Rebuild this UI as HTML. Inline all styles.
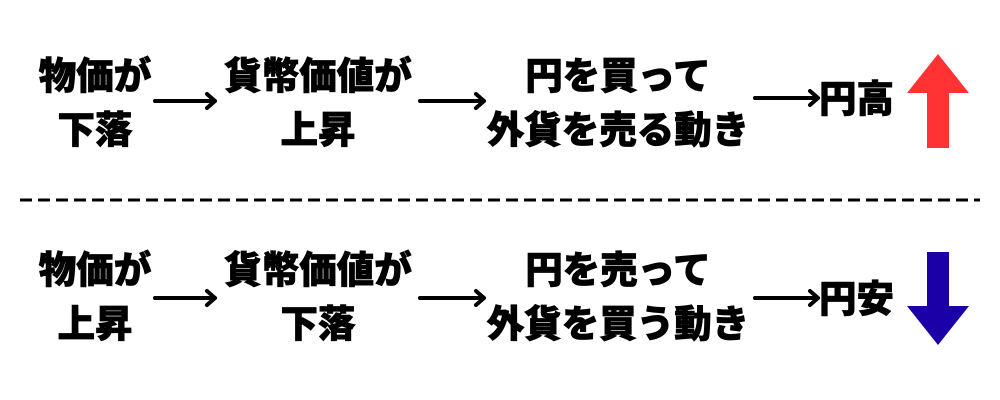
<!DOCTYPE html>
<html><head><meta charset="utf-8"><style>
body{margin:0;width:1000px;height:400px;background:#fff;position:relative;overflow:hidden;font-family:"Liberation Sans","Noto Sans CJK JP",sans-serif;font-weight:900;}
.t{position:absolute;font-size:37.5px;line-height:54px;text-align:center;white-space:nowrap;color:#000;transform:translateX(-50%);-webkit-text-stroke:0.8px #000;}
.l{position:absolute;font-size:37.5px;line-height:40px;white-space:nowrap;-webkit-text-stroke:0.8px #000;}
svg{position:absolute;left:0;top:0}
</style></head><body>
<div class="t" style="left:95px;top:49px">物価が<br>下落</div>
<div class="t" style="left:318px;top:49px">貨幣価値が<br>上昇</div>
<div class="t" style="left:618px;top:49px">円を買って<br>外貨を売る動き</div>
<div class="l" style="left:819px;top:79px">円高</div>
<div class="t" style="left:95px;top:243px">物価が<br>上昇</div>
<div class="t" style="left:318px;top:243px">貨幣価値が<br>下落</div>
<div class="t" style="left:618px;top:243px">円を売って<br>外貨を買う動き</div>
<div class="l" style="left:819px;top:279px">円安</div>
<svg width="1000" height="400">
<g stroke="#000" stroke-width="4" fill="none" stroke-linecap="round" stroke-linejoin="round">
<path d="M155 101H215M207 94L215 101L207 108"/>
<path d="M420 101H484M476 94L484 101L476 108"/>
<path d="M755 98H818M810 91L818 98L810 105"/>
<path d="M155 298H215M207 291L215 298L207 305"/>
<path d="M420 298H484M476 291L484 298L476 305"/>
<path d="M755 298H818M810 291L818 298L810 305"/>
</g>
<line x1="20" y1="200" x2="980" y2="200" stroke="#000" stroke-width="3" stroke-dasharray="12 6"/>
<polygon points="938,54 969,93 949,93 949,148 927,148 927,93 907,93" fill="#ff3333"/>
<polygon points="927,252 949,252 949,306 969,306 938,345 907,306 927,306" fill="#1a00a6"/>
</svg>
</body></html>
